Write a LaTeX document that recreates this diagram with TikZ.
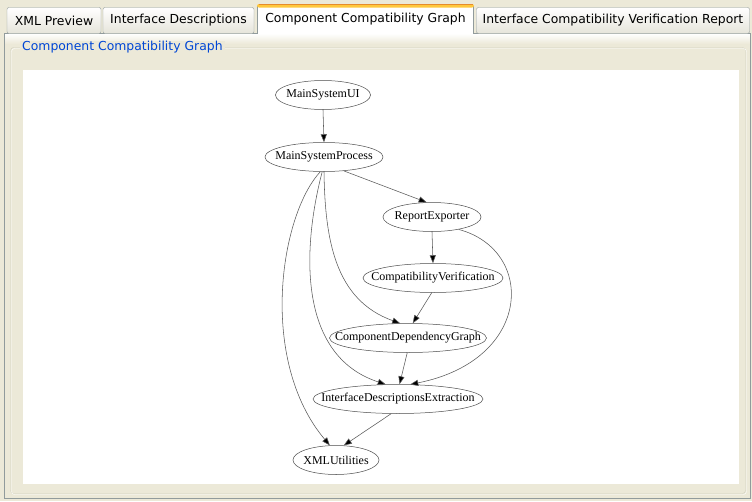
\documentclass[tikz,border=0pt]{standalone}
\usepackage{fontspec}
\setmainfont{Liberation Serif}
\newfontfamily\uifont{DejaVu Sans}
\usetikzlibrary{shapes.geometric,arrows.meta}
\definecolor{xpbeige}{HTML}{ECE9D8}
\definecolor{tabborder}{HTML}{919B9C}
\definecolor{tabbot}{HTML}{E6E4DA}
\definecolor{xporange}{HTML}{FFC83C}
\definecolor{xporangedk}{HTML}{E68B2C}
\definecolor{grpborder}{HTML}{D0D0BF}
\definecolor{titleblue}{HTML}{0046D5}
\definecolor{edgegray}{HTML}{5A5A5A}
\newcommand{\gtxt}[1]{\makebox[0pt]{#1}}
\begin{document}
\begin{tikzpicture}[x=1pt,y=-1pt,
  uitext/.style={font=\uifont\fontsize{12.4}{14}\selectfont},
  tabbox/.style={draw=tabborder, rectangle, rounded corners=2pt, top color=white, bottom color=tabbot, inner sep=0pt, minimum height=26pt, uitext, text=black},
  gnode/.style={draw=black!70, ellipse, line width=0.5pt, inner sep=0pt, minimum height=29pt, font=\fontsize{12}{14}\selectfont, fill=white},
  gedge/.style={draw=edgegray, line width=0.55pt, -{Triangle[length=8pt,width=6pt]}, arrows={[fill=black]}},
]
\useasboundingbox (0,0) rectangle (752,501);
\fill[xpbeige] (0,0) rectangle (752,501);

% panel
\fill[xpbeige] (4,33) rectangle (751,498);
\shade[top color=white, bottom color=xpbeige] (5,33.5) rectangle (750,44);
\draw[tabborder] (4.5,33) -- (4.5,498) -- (750.5,498) -- (750.5,33) -- cycle;

% tabs
\node[tabbox, minimum width=94pt] (tab1) at (54,20.5) {XML Preview};
\node[tabbox, minimum width=151pt] (tab2) at (178.5,20.5) {Interface Descriptions};
\node[tabbox, minimum width=273pt] (tab4) at (613,20.5) {Interface Compatibility Verification Report};
\fill[white] (257,5) rectangle (474,34);
\draw[tabborder] (257.5,34) -- (257.5,6) (473.5,6) -- (473.5,34);
\fill[xporange, rounded corners=2pt] (257,4) rectangle (474,7.5);
\draw[xporangedk, line width=0.8pt] (258.5,4.2) -- (472.5,4.2);
\node[uitext, anchor=center] (tab3) at (365.5,19.5) {Component Compatibility Graph};

% group box
\draw[grpborder, rounded corners=3pt] (10.5,47.5) rectangle (745.5,493.5);
\draw[white, rounded corners=3pt] (11.5,48.5) rectangle (746.5,494.5);
\node[uitext, text=titleblue, fill=xpbeige, inner xsep=2pt, inner ysep=1pt, anchor=west] (gtitle) at (20,47.5) {Component Compatibility Graph};

% canvas
\fill[white] (23,70) rectangle (739,484);

% graph nodes
\node[gnode, minimum width=95pt] (ui) at (323,95) {\gtxt{MainSystemUI}};
\node[gnode, minimum width=118pt] (msp) at (324,157) {\gtxt{MainSystemProcess}};
\node[gnode, minimum width=98pt] (re) at (432,217) {\gtxt{ReportExporter}};
\node[gnode, minimum width=140pt] (cv) at (433,278) {\gtxt{CompatibilityVerification}};
\node[gnode, minimum width=157pt] (cdg) at (408,338) {\gtxt{ComponentDependencyGraph}};
\node[gnode, minimum width=170pt] (ide) at (398,399) {\gtxt{InterfaceDescriptionsExtraction}};
\node[gnode, minimum width=86pt] (xml) at (336,460) {\gtxt{XMLUtilities}};

% edges
\draw[gedge] (ui.south) -- (msp.north);
\draw[gedge] (msp.-35) -- (re.110);
\draw[gedge] (re.south) -- (cv.north);
\draw[gedge] (cv.-95) -- (cdg.72);
\draw[gedge] (cdg.-93) -- (ide.84);
\draw[gedge] (re.-25) .. controls (536,250) and (533,360) .. (ide.50);
\draw[gedge] (msp.-90) .. controls (325,240) and (335,300) .. (cdg.118);
\draw[gedge] (msp.-97) .. controls (303,245) and (296,355) .. (ide.130);
\draw[gedge] (msp.-104) .. controls (280,215) and (258,360) .. (xml.113);
\draw[gedge] (ide.-115) -- (xml.62);
\end{tikzpicture}
\end{document}
